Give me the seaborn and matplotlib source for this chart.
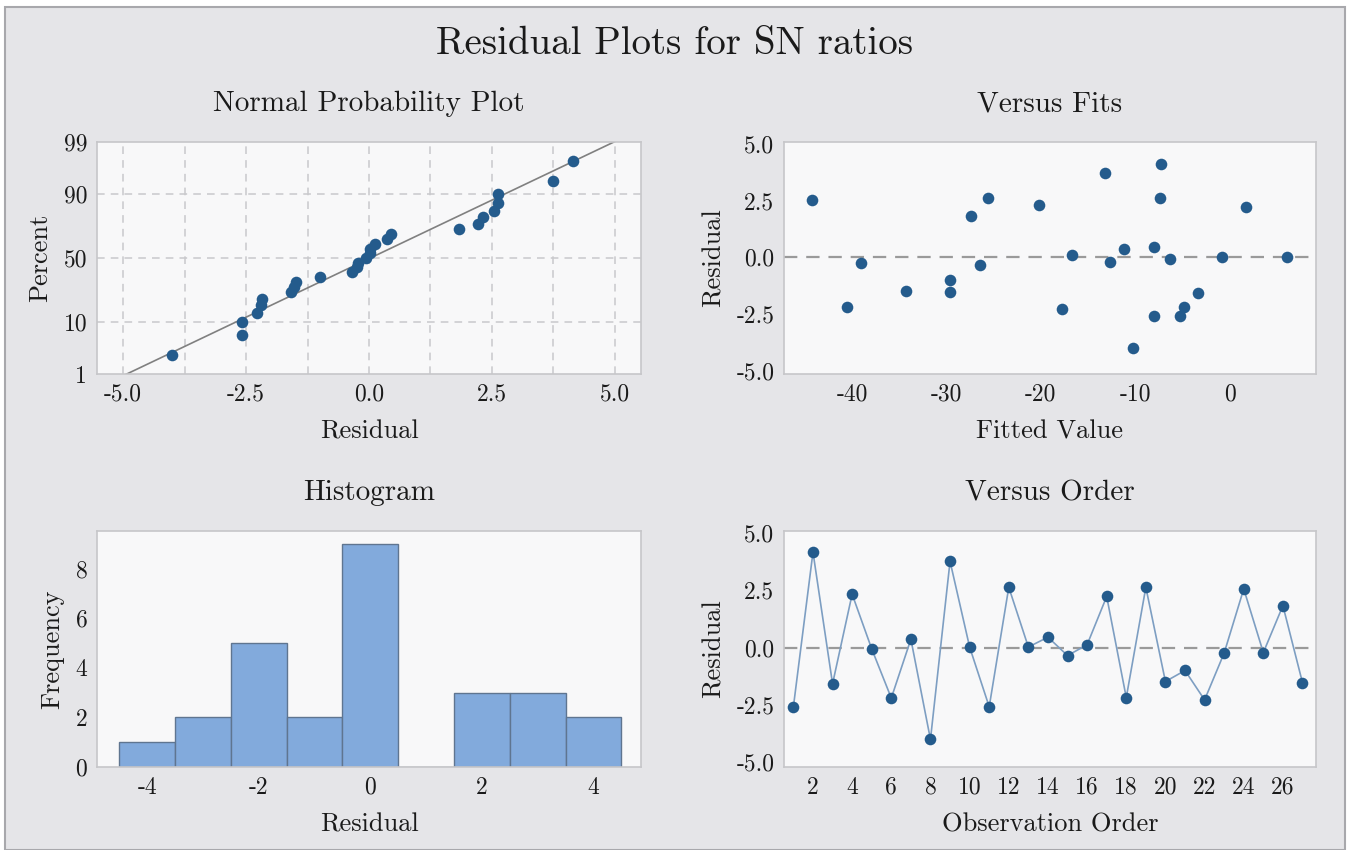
import matplotlib
matplotlib.use("Agg")
import matplotlib.pyplot as plt
import matplotlib.patches as mpatches
import numpy as np
import pandas as pd
import seaborn as sns
from statistics import NormalDist

# ---------------- data ----------------
observation = list(range(1, 28))
residuals = [-2.58, 4.15, -1.58, 2.32, -0.06, -2.20, 0.36, -4.00, 3.75, 0.02,
             -2.58, 2.62, 0.02, 0.45, -0.35, 0.12, 2.22, -2.18, 2.62, -1.48,
             -1.00, -2.28, -0.24, 2.55, -0.22, 1.82, -1.53]
fitted = [-8.0, -7.3, -3.3, -20.2, -6.3, -40.5, -11.2, -10.2, -13.2, 6.1,
          -5.3, -25.6, -0.8, -8.0, -26.4, -16.7, 1.7, -4.8, -7.4, -34.25,
          -29.65, -17.8, -39.0, -44.2, -12.7, -27.4, -29.65]
npp_ticks = [1, 10, 50, 90, 99]
npp_xticks = [-5.0, -2.5, 0.0, 2.5, 5.0]
res_ticks = [-5.0, -2.5, 0.0, 2.5, 5.0]
fit_ticks = [-40, -30, -20, -10, 0]
hist_xticks = [-4, -2, 0, 2, 4]
hist_yticks = [0, 2, 4, 6, 8]
order_ticks = list(range(2, 27, 2))

df = pd.DataFrame({"obs": observation, "res": residuals, "fit": fitted})

# ---------------- style ----------------
sns.set_style("white")
plt.rcParams["font.family"] = ["cmr10", "DejaVu Serif"]
plt.rcParams["axes.unicode_minus"] = False
plt.rcParams["axes.formatter.use_mathtext"] = False

FIG_BG = "#e5e5e8"
AX_BG = "#f8f8f9"
SPINE = "#c6c6c9"
PT = "#245b8c"
LINE = "#7d9ec2"
BAR = "#82aadc"
BAREDGE = "#5f7590"
TXT = "#1a1a1a"

W, H = 1350, 850
fig = plt.figure(figsize=(13.5, 8.5), dpi=100, facecolor="white")
fig.patches.append(mpatches.Rectangle((5 / W, 0), (1345 - 5) / W, 1 - 7 / H,
                                      transform=fig.transFigure, facecolor=FIG_BG,
                                      edgecolor="#a8a8ac", linewidth=1.5, zorder=-10))


def add_ax(l, t, r, b):
    ax = fig.add_axes([l / W, 1 - b / H, (r - l) / W, (b - t) / H])
    ax.set_facecolor(AX_BG)
    for s in ax.spines.values():
        s.set_color(SPINE)
        s.set_linewidth(1.2)
    ax.tick_params(axis="both", which="both", direction="out", length=4, width=1,
                   color=SPINE, labelsize=17, labelcolor=TXT, pad=3)
    return ax


TICK_FS = 17
LAB_FS = 19
TITLE_FS = 21

fig.text(0.5, 1 - 44 / H, "Residual Plots for SN ratios", ha="center", va="center",
         fontsize=28, color=TXT)

# ---------- Normal probability plot ----------
ax1 = add_ax(97, 142, 641, 374)
n = len(residuals)
nd = NormalDist()
sorted_res = np.sort(np.array(residuals))
pos = [(i - 0.3) / (n + 0.4) for i in range(1, n + 1)]
zvals = [nd.inv_cdf(p) for p in pos]
mu = float(np.mean(residuals))
sd = float(np.std(residuals, ddof=1))
zlo, zhi = nd.inv_cdf(0.01), nd.inv_cdf(0.99)
ax1.set_xlim(-5.53, 5.53)
ax1.set_ylim(zlo, zhi)
for xv in np.arange(-5.0, 5.01, 1.25):
    ax1.axvline(xv, color="#c9c9cc", linestyle=(0, (5, 4)), linewidth=1.1, zorder=0)
for pv in [10, 50, 90]:
    ax1.axhline(nd.inv_cdf(pv / 100), color="#c9c9cc", linestyle=(0, (5, 4)), linewidth=1.1, zorder=0)
zline = np.linspace(zlo - 0.2, zhi + 0.2, 50)
ax1.plot(mu + sd * zline, zline, color="#808080", linewidth=1.2, zorder=2)
sns.scatterplot(x=sorted_res, y=zvals, ax=ax1, color=PT, s=70, edgecolor=PT,
                linewidth=0, zorder=3)
ax1.set_yticks([nd.inv_cdf(p / 100) for p in npp_ticks])
ax1.set_yticklabels([str(p) for p in npp_ticks])
ax1.set_xticks(npp_xticks)
ax1.set_xticklabels([f"{v:.1f}" for v in npp_xticks])
ax1.set_xlabel("Residual", fontsize=LAB_FS, color=TXT, labelpad=10)
ax1.set_ylabel("Percent", fontsize=LAB_FS, color=TXT, labelpad=8)
ax1.set_title("Normal Probability Plot", fontsize=TITLE_FS, color=TXT, pad=22)

# ---------- Versus fits ----------
ax2 = add_ax(784, 142, 1316, 374)
ax2.axhline(0, color="#9a9a9a", linestyle=(0, (6, 4)), linewidth=1.6, zorder=1)
sns.scatterplot(data=df, x="fit", y="res", ax=ax2, color=PT, s=70, linewidth=0, zorder=3)
ax2.set_xlim(-47.2, 9.15)
ax2.set_ylim(-5.15, 5.1)
ax2.set_xticks(fit_ticks)
ax2.set_xticklabels([str(v) for v in fit_ticks])
ax2.set_yticks(res_ticks)
ax2.set_yticklabels([f"{v:.1f}" for v in res_ticks])
ax2.set_xlabel("Fitted Value", fontsize=LAB_FS, color=TXT, labelpad=10)
ax2.set_ylabel("Residual", fontsize=LAB_FS, color=TXT, labelpad=8)
ax2.set_title("Versus Fits", fontsize=TITLE_FS, color=TXT, pad=22)

# ---------- Histogram ----------
ax3 = add_ax(97, 531, 641, 767)
sns.histplot(x=residuals, bins=np.arange(-4.5, 4.6, 1.0), ax=ax3, color=BAR,
             edgecolor=BAREDGE, linewidth=1.0, alpha=1.0, zorder=2)
ax3.set_xlim(-4.9, 4.85)
ax3.set_ylim(0, 9.52)
ax3.set_xticks(hist_xticks)
ax3.set_xticklabels([str(v) for v in hist_xticks])
ax3.set_yticks(hist_yticks)
ax3.set_yticklabels([str(v) for v in hist_yticks])
ax3.set_xlabel("Residual", fontsize=LAB_FS, color=TXT, labelpad=10)
ax3.set_ylabel("Frequency", fontsize=LAB_FS, color=TXT, labelpad=8)
ax3.set_title("Histogram", fontsize=TITLE_FS, color=TXT, pad=22)

# ---------- Versus order ----------
ax4 = add_ax(784, 531, 1316, 767)
ax4.axhline(0, color="#9a9a9a", linestyle=(0, (6, 4)), linewidth=1.6, zorder=1)
sns.lineplot(data=df, x="obs", y="res", ax=ax4, color=LINE, linewidth=1.2, zorder=2)
sns.scatterplot(data=df, x="obs", y="res", ax=ax4, color=PT, s=70, linewidth=0, zorder=3)
ax4.set_xlim(0.52, 27.69)
ax4.set_ylim(-5.2, 5.07)
ax4.set_xticks(order_ticks)
ax4.set_xticklabels([str(v) for v in order_ticks])
ax4.set_yticks(res_ticks)
ax4.set_yticklabels([f"{v:.1f}" for v in res_ticks])
ax4.set_xlabel("Observation Order", fontsize=LAB_FS, color=TXT, labelpad=10)
ax4.set_ylabel("Residual", fontsize=LAB_FS, color=TXT, labelpad=8)
ax4.set_title("Versus Order", fontsize=TITLE_FS, color=TXT, pad=22)

fig.savefig("out.png", dpi=100, facecolor=fig.get_facecolor())
